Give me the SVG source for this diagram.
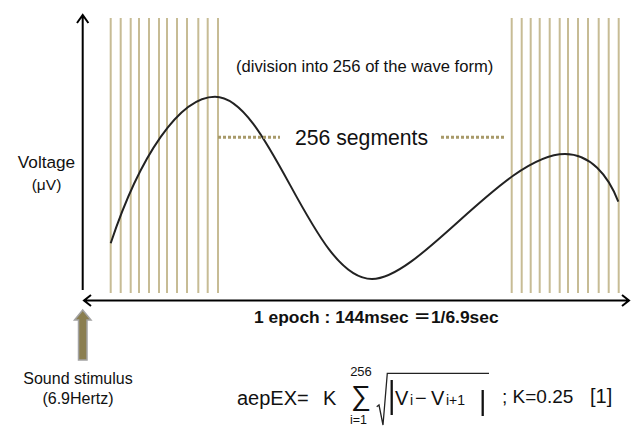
<svg xmlns="http://www.w3.org/2000/svg" width="631" height="427" viewBox="0 0 631 427">
<defs>
<style>
text{font-family:"Liberation Sans","Noto Sans CJK JP",Arial,sans-serif;fill:#111;}
.seg line{stroke:#c7bc95;stroke-width:2;}
.dot{stroke:#a89a6a;stroke-width:3;stroke-dasharray:3 2;}
.ax{stroke:#000;stroke-width:2;fill:none;}
</style>
</defs>
<g id="segments-left" class="seg">
<line x1="110.7" y1="18" x2="110.7" y2="293"/>
<line x1="120.7" y1="18" x2="120.7" y2="293"/>
<line x1="130.7" y1="18" x2="130.7" y2="293"/>
<line x1="139" y1="18" x2="139" y2="293"/>
<line x1="149" y1="18" x2="149" y2="293"/>
<line x1="159" y1="18" x2="159" y2="293"/>
<line x1="167" y1="18" x2="167" y2="293"/>
<line x1="177" y1="18" x2="177" y2="293"/>
<line x1="187" y1="18" x2="187" y2="293"/>
<line x1="198.3" y1="18" x2="198.3" y2="293"/>
<line x1="207.7" y1="18" x2="207.7" y2="293"/>
<line x1="218" y1="18" x2="218" y2="293"/>
</g>
<g id="segments-right" class="seg">
<line x1="511.7" y1="18" x2="511.7" y2="293"/>
<line x1="521.7" y1="18" x2="521.7" y2="293"/>
<line x1="530.7" y1="18" x2="530.7" y2="293"/>
<line x1="539.7" y1="18" x2="539.7" y2="293"/>
<line x1="549.7" y1="18" x2="549.7" y2="293"/>
<line x1="559.7" y1="18" x2="559.7" y2="293"/>
<line x1="568" y1="18" x2="568" y2="293"/>
<line x1="578" y1="18" x2="578" y2="293"/>
<line x1="588" y1="18" x2="588" y2="293"/>
<line x1="598.7" y1="18" x2="598.7" y2="293"/>
<line x1="608.7" y1="18" x2="608.7" y2="293"/>
<line x1="618.7" y1="18" x2="618.7" y2="293"/>
</g>
<g id="waveform">
<path d="M110.7,243.3 C140,155 180,96.7 215,96.7 C270,96.7 312,279 372,279 C420,279 505,154 565,154 C590,154 608,175 618.3,201.7" fill="none" stroke="#222" stroke-width="2"/>
</g>
<g id="connectors">
<line class="dot" x1="218" y1="137.3" x2="280" y2="137.3"/>
<line class="dot" x1="441" y1="137.3" x2="505" y2="137.3"/>
<path class="ax" d="M82.7,290 V15 M77,23 L82.7,15 L88.4,23"/>
<path class="ax" d="M84,300.5 H629 M91,295 L84,300.5 L91,306 M622,295 L629,300.5 L622,306"/>
<polygon points="82.7,310 91,320 87,320 87,360 78.5,360 78.5,320 74.5,320" fill="#8a7e50" stroke="#a3a3a3" stroke-width="1.5"/>
</g>
<g id="labels">
<text x="236" y="72" font-size="16.6">(division into 256 of the wave form)</text>
<text x="295" y="145" font-size="21.2">256 segments</text>
<text x="46.5" y="168" font-size="17.2" text-anchor="middle">Voltage</text>
<text x="46.5" y="190" font-size="15.5" text-anchor="middle">(μV)</text>
<text x="254" y="322.5" font-size="17.4" font-weight="bold">1 epoch : 144msec ＝1/6.9sec</text>
<text x="78" y="384" font-size="16" text-anchor="middle">Sound stimulus</text>
<text x="78" y="404" font-size="16" text-anchor="middle">(6.9Hertz)</text>
</g>
<g id="formula">
<text x="237" y="405" font-size="20">aepEX=</text>
<text x="323" y="405" font-size="20">K</text>
<text x="361" y="405" font-size="28" text-anchor="middle">∑</text>
<text x="361" y="376" font-size="13" text-anchor="middle">256</text>
<text x="358.5" y="423.5" font-size="12.5" text-anchor="middle">i=1</text>
<path d="M376.7,406.7 L379,405 L383,425 L387.3,373.3 H489" fill="none" stroke="#222" stroke-width="1.3"/>
<line x1="391.7" y1="380" x2="391.7" y2="415" stroke="#111" stroke-width="2.3"/>
<line x1="482.7" y1="390" x2="482.7" y2="416" stroke="#111" stroke-width="2.3"/>
<text x="395" y="405" font-size="20">V</text>
<text x="410" y="405" font-size="14">i</text>
<text x="415" y="405" font-size="20">−</text>
<text x="431" y="405" font-size="20">V</text>
<text x="446" y="405" font-size="14">i+1</text>
<text x="502" y="403" font-size="19">; K=0.25</text>
<text x="590" y="403" font-size="20">[1]</text>
</g>
</svg>
